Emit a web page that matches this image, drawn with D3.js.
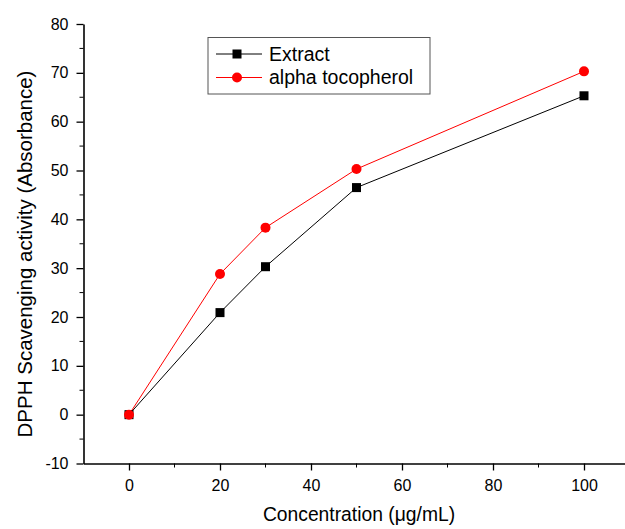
<!DOCTYPE html>
<html>
<head>
<meta charset="utf-8">
<script src="https://cdn.jsdelivr.net/npm/d3@7"></script>
<style>
  body { margin: 0; background: #fff; }
  svg { display: block; font-family: "Liberation Sans", Arial, sans-serif; }
</style>
</head>
<body>
<div id="chart"></div>
<script>
// datos
const concentrations = [0, 20, 30, 50, 100];
const extractValues = [0, 20.9, 30.3, 46.5, 65.3];
const tocopherolValues = [0, 28.8, 38.3, 50.3, 70.3];
const xTicks = [0, 20, 40, 60, 80, 100];
const yTicks = [-10, 0, 10, 20, 30, 40, 50, 60, 70, 80];

const width = 625, height = 529;

const svg = d3.select('#chart').append('svg')
  .attr('width', width)
  .attr('height', height);

// escalas (el eje x continúa hasta 110, justo en el borde)
const x = d3.scaleLinear().domain([-10, 110]).range([83.5, 629.5]);
const y = d3.scaleLinear().domain([-10, 80]).range([463.5, 24]);

// eje x
const xAxis = svg.append('g')
  .attr('transform', `translate(0,${y(-10)})`)
  .call(d3.axisBottom(x).tickValues(xTicks).tickFormat(d => String(d))
    .tickSize(7).tickSizeOuter(0).tickPadding(9.5));
xAxis.append('g').selectAll('line')
  .data([10, 30, 50, 70, 90])
  .join('line')
    .attr('x1', d => x(d)).attr('x2', d => x(d))
    .attr('y1', 0).attr('y2', 4)
    .attr('stroke', '#000');

// eje y (guion normal en "-10")
const yAxis = svg.append('g')
  .attr('transform', `translate(${x(-10)},0)`)
  .call(d3.axisLeft(y).tickValues(yTicks).tickFormat(d => String(d))
    .tickSize(7).tickSizeOuter(0).tickPadding(8));
yAxis.append('g').selectAll('line')
  .data([-5, 5, 15, 25, 35, 45, 55, 65, 75])
  .join('line')
    .attr('y1', d => y(d)).attr('y2', d => y(d))
    .attr('x1', 0).attr('x2', -4)
    .attr('stroke', '#000');

svg.selectAll('.domain').attr('stroke', '#000').attr('stroke-width', 1.6);
svg.selectAll('.tick line').attr('stroke', '#000').attr('stroke-width', 1.3);
svg.selectAll('.tick text')
  .attr('font-family', '"Liberation Sans", Arial, sans-serif')
  .attr('font-size', 16)
  .attr('fill', '#000');

// títulos de ejes
svg.append('text')
  .attr('x', 359).attr('y', 521)
  .attr('text-anchor', 'middle')
  .attr('font-size', 19.3)
  .text('Concentration (μg/mL)');

svg.append('text')
  .attr('transform', `translate(32,254) rotate(-90)`)
  .attr('text-anchor', 'middle')
  .attr('font-size', 20.5)
  .text('DPPH Scavenging activity (Absorbance)');

// series
const line = d3.line()
  .x((d, i) => x(concentrations[i]))
  .y(d => y(d));

svg.append('path')
  .datum(extractValues)
  .attr('fill', 'none')
  .attr('stroke', '#000')
  .attr('stroke-width', 1)
  .attr('d', line);

svg.append('path')
  .datum(tocopherolValues)
  .attr('fill', 'none')
  .attr('stroke', '#ff0000')
  .attr('stroke-width', 1)
  .attr('d', line);

svg.append('g').selectAll('rect')
  .data(extractValues)
  .join('rect')
    .attr('x', (d, i) => x(concentrations[i]) - 4.5)
    .attr('y', d => y(d) - 4.5)
    .attr('width', 9).attr('height', 9)
    .attr('fill', '#000');

svg.append('g').selectAll('circle')
  .data(tocopherolValues)
  .join('circle')
    .attr('cx', (d, i) => x(concentrations[i]))
    .attr('cy', d => y(d))
    .attr('r', 5)
    .attr('fill', '#ff0000');

// leyenda
const legend = svg.append('g');
legend.append('rect')
  .attr('x', 208).attr('y', 37.5)
  .attr('width', 222).attr('height', 56.5)
  .attr('fill', '#fff')
  .attr('stroke', '#555')
  .attr('stroke-width', 1);

const legendItems = [
  { name: 'Extract', color: '#000', shape: 'square', cy: 54 },
  { name: 'alpha tocopherol', color: '#ff0000', shape: 'circle', cy: 77.5 }
];

legendItems.forEach(item => {
  legend.append('line')
    .attr('x1', 216).attr('x2', 262)
    .attr('y1', item.cy).attr('y2', item.cy)
    .attr('stroke', item.color).attr('stroke-width', 1);
  if (item.shape === 'square') {
    legend.append('rect')
      .attr('x', 232.5).attr('y', item.cy - 4.5)
      .attr('width', 9).attr('height', 9)
      .attr('fill', item.color);
  } else {
    legend.append('circle')
      .attr('cx', 237).attr('cy', item.cy).attr('r', 5)
      .attr('fill', item.color);
  }
  legend.append('text')
    .attr('x', 269).attr('y', item.cy + 6.5)
    .attr('font-size', 19.5)
    .text(item.name);
});
</script>
</body>
</html>
